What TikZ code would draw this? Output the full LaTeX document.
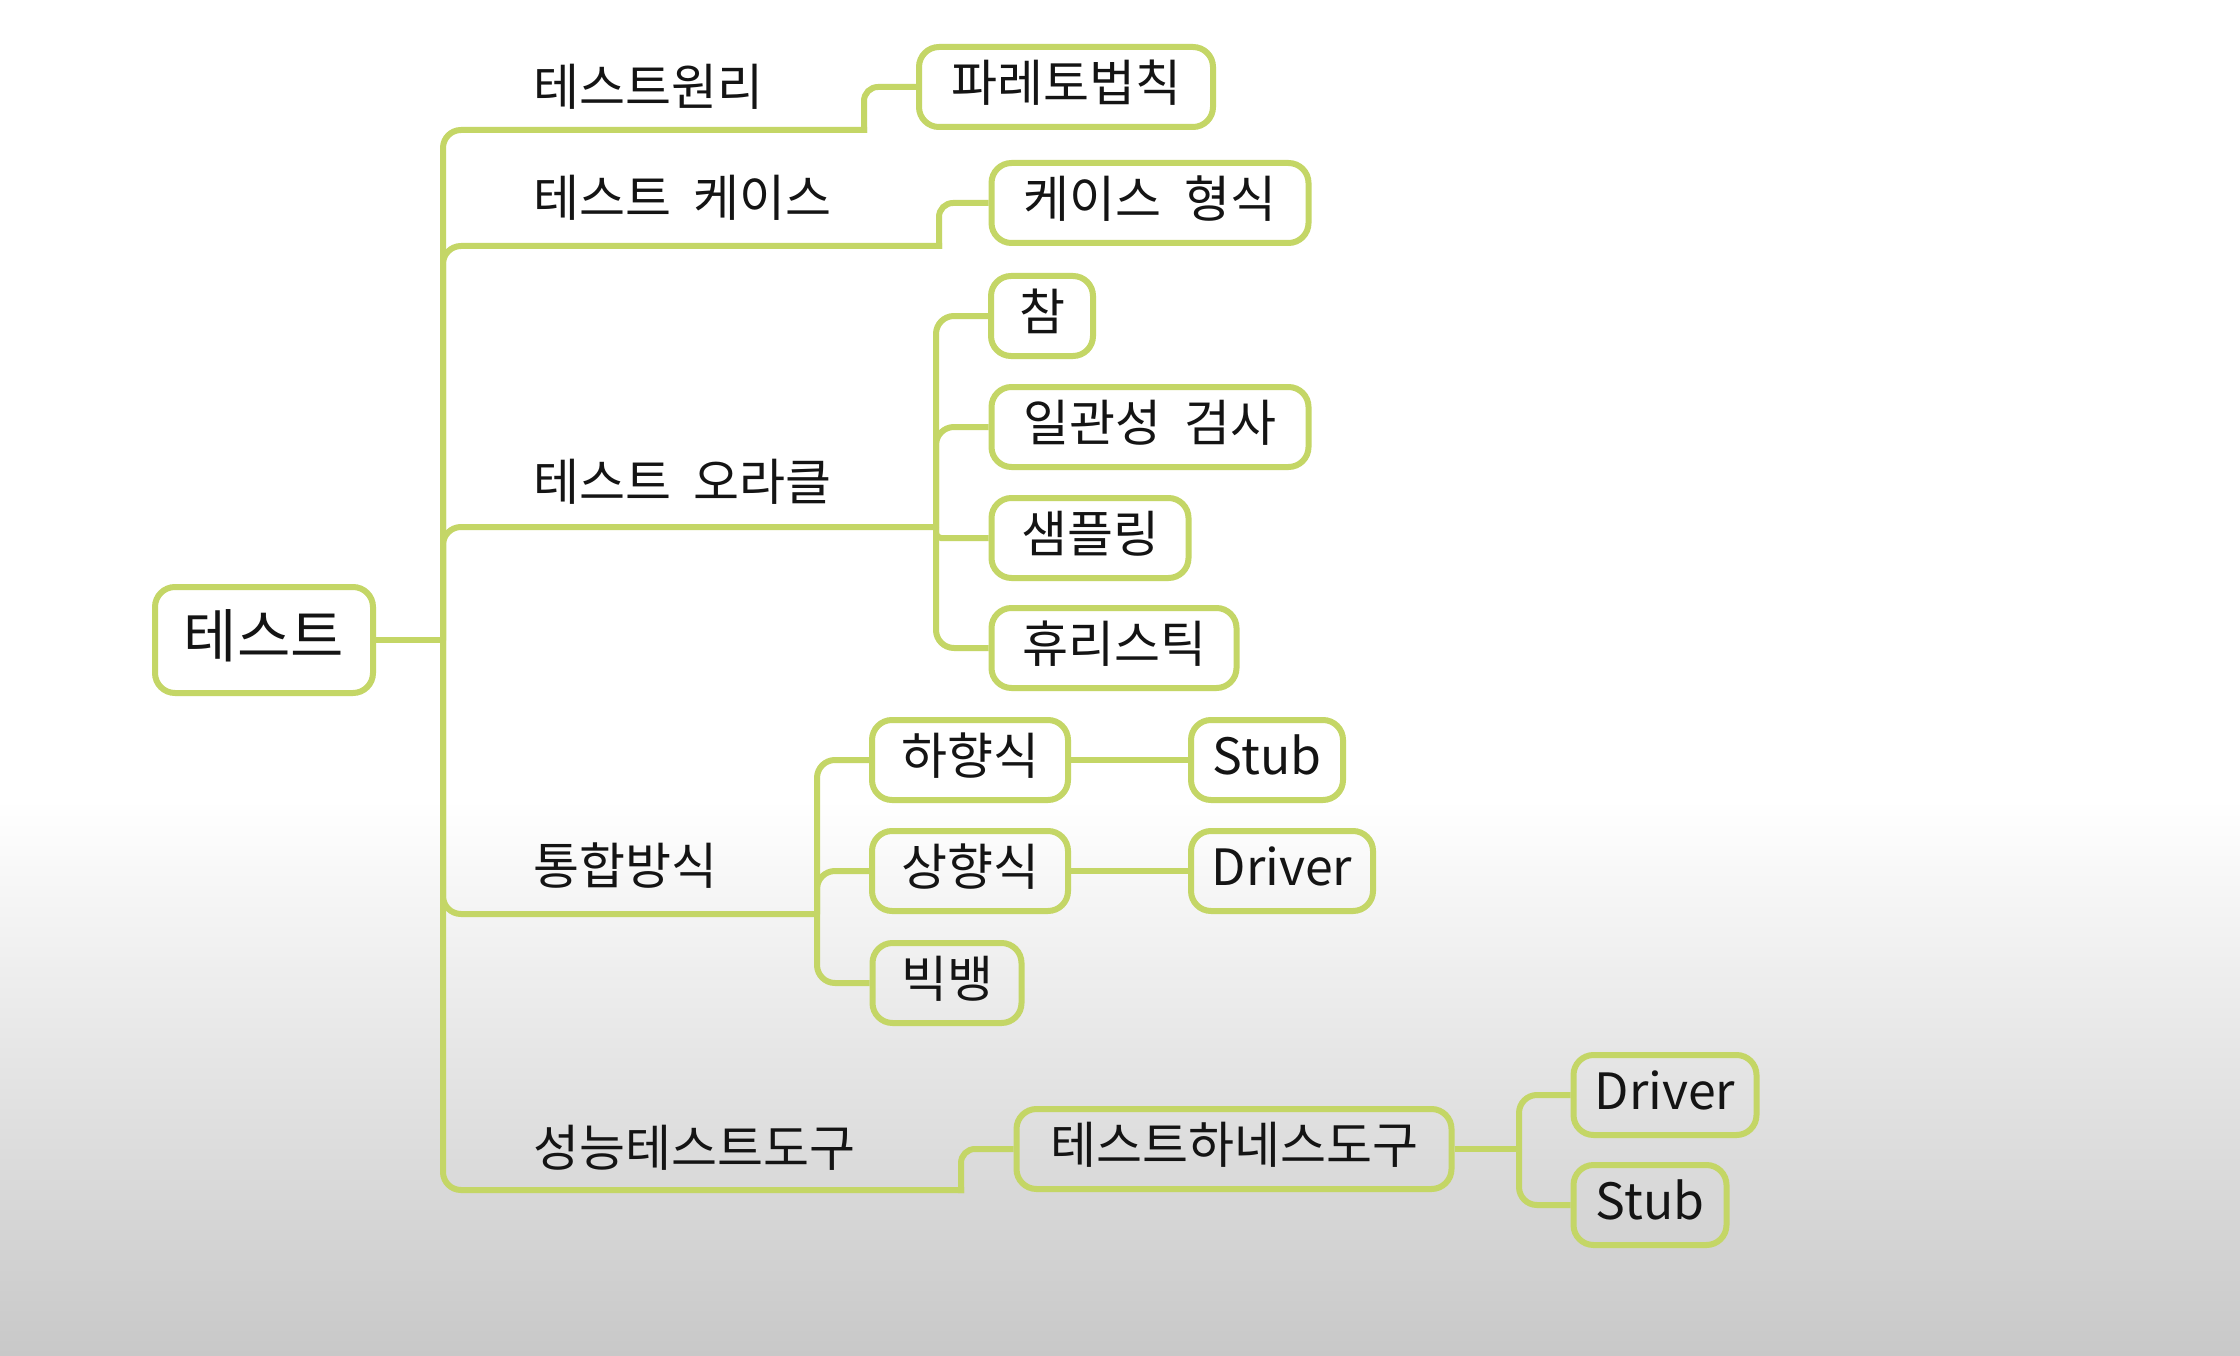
\documentclass[tikz,border=0pt]{standalone}
\usepackage{fontspec}
\setmainfont{Noto Sans CJK KR}
\definecolor{lg}{RGB}{196,214,102}
\definecolor{tx}{RGB}{20,20,20}
\definecolor{bgbot}{RGB}{200,200,200}
\newcommand\kgap{\hspace{0.45em}}
\begin{document}
\begin{tikzpicture}[x=1pt,y=-1pt,
  conn/.style={draw=lg,line width=6pt},
  rc/.style={rounded corners=18pt},
  box/.style={draw=lg,line width=6pt,rounded corners=20pt,inner sep=0pt,
    minimum height=80pt,font=\fontsize{50}{58}\selectfont,text=tx,
    text height=35pt,text depth=6pt},
  lab/.style={inner sep=0pt,anchor=base west,font=\fontsize{50}{58}\selectfont,text=tx}]
\useasboundingbox (0,0) rectangle (2240,1356);
\fill[white] (0,0) rectangle (2240,801);
\shade[top color=white,bottom color=bgbot] (0,800) rectangle (2240,1356);

% nodes
\node[box,minimum width=218pt,minimum height=106pt,font=\fontsize{58}{66}\selectfont,text height=41pt,text depth=7pt] (root) at (264,640) {테스트};
\node[box,minimum width=294pt] (b1) at (1066,87) {파레토법칙};
\node[box,minimum width=317pt] (b2) at (1150,203) {케이스\kgap 형식};
\node[box,minimum width=102pt] (c1) at (1042,316) {참};
\node[box,minimum width=317pt] (c2) at (1150,427) {일관성\kgap 검사};
\node[box,minimum width=197pt] (c3) at (1090,538) {샘플링};
\node[box,minimum width=245pt] (c4) at (1114,648) {휴리스틱};
\node[box,minimum width=196pt] (d1) at (970,760) {하향식};
\node[box,minimum width=196pt] (d2) at (970,871) {상향식};
\node[box,minimum width=149pt] (d3) at (947,983) {빅뱅};
\node[box,minimum width=152pt] (e1) at (1267,760) {Stub};
\node[box,minimum width=182pt] (e2) at (1282,871) {Driver};
\node[box,minimum width=435pt] (f1) at (1234,1149) {테스트하네스도구};
\node[box,minimum width=183pt] (g1) at (1665,1095) {Driver};
\node[box,minimum width=153pt] (g2) at (1650,1205) {Stub};

\node[lab] (l1) at (533,106) {테스트원리};
\node[lab] (l2) at (533,217) {테스트\kgap 케이스};
\node[lab] (l3) at (533,500) {테스트\kgap 오라클};
\node[lab] (l4) at (533,884) {통합방식};
\node[lab] (l5) at (533,1166) {성능테스트도구};

% coordinates
\coordinate (jr) at (443,640);
\coordinate (s1) at (867,130);
\coordinate (s1b) at (864,133);
\coordinate (s2) at (942,246);
\coordinate (s2b) at (939,249);
\coordinate (o3) at (936,527);
\coordinate (o4) at (817,914);
\coordinate (s5) at (964,1190);
\coordinate (s5b) at (961,1193);
\coordinate (h1) at (1519,1149);

% connectors
\draw[conn] (root.east) -- (jr);
\draw[conn,rc] (jr) |- (s1);
\draw[conn,rounded corners=14pt] (s1b) |- (b1.west);
\draw[conn,rc] (jr) |- (s2);
\draw[conn,rounded corners=14pt] (s2b) |- (b2.west);
\draw[conn,rc] (jr) |- (o3);
\draw[conn,rc] (o3) |- (c1.west);
\draw[conn,rc] (o3) |- (c2.west);
\draw[conn,rounded corners=5pt] (o3) |- (c3.west);
\draw[conn,rc] (o3) |- (c4.west);
\draw[conn,rc] (jr) |- (o4);
\draw[conn,rc] (o4) |- (d1.west);
\draw[conn,rc] (o4) |- (d2.west);
\draw[conn,rc] (o4) |- (d3.west);
\draw[conn] (d1.east) -- (e1.west);
\draw[conn] (d2.east) -- (e2.west);
\draw[conn,rc] (jr) |- (s5);
\draw[conn,rounded corners=14pt] (s5b) |- (f1.west);
\draw[conn] (f1.east) -- (h1);
\draw[conn,rc] (h1) |- (g1.west);
\draw[conn,rc] (h1) |- (g2.west);
\end{tikzpicture}
\end{document}
